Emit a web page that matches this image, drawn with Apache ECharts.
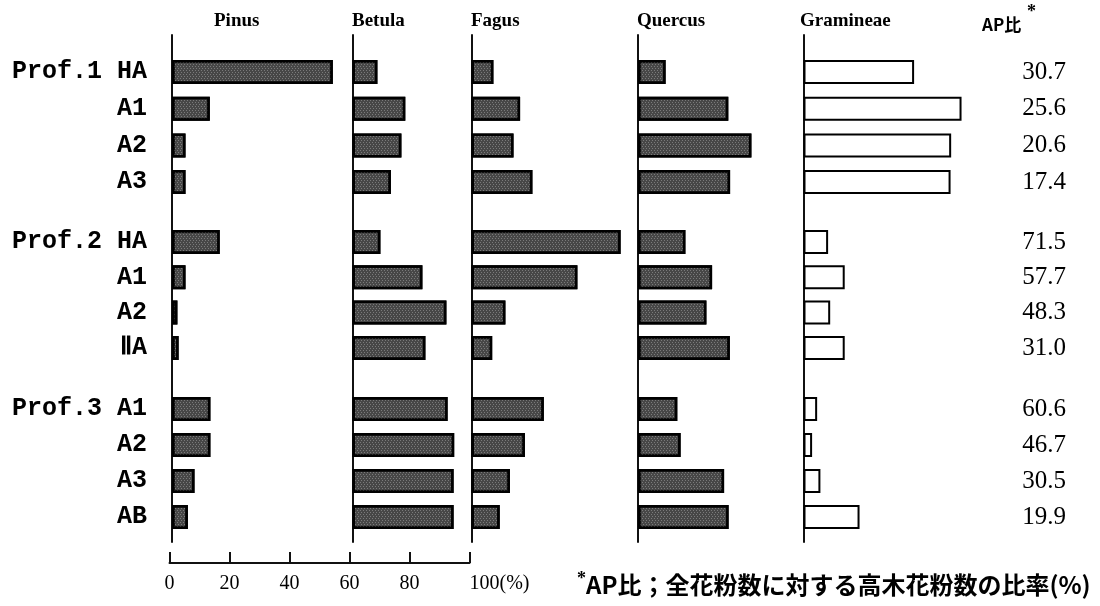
<!DOCTYPE html>
<html>
<head>
<meta charset="utf-8">
<script src="https://cdn.jsdelivr.net/npm/echarts@6/dist/echarts.min.js"></script>
<style>
  html, body { margin: 0; padding: 0; background: #fff; }
  #chart { width: 1100px; height: 606px; }
</style>
</head>
<body>
<div id="chart"></div>
<script>
// Sample (horizon) labels of each soil profile
const prof1Rows = ['Prof.1 HA', 'A1', 'A2', 'A3'];
const prof2Rows = ['Prof.2 HA', 'A1', 'A2', 'ⅡA'];
const prof3Rows = ['Prof.3 A1', 'A2', 'A3', 'AB'];

// Taxon names (panel headings)
const taxa = ['Pinus', 'Betula', 'Fagus', 'Quercus', 'Gramineae'];

// Pollen percentages per taxon, rows ordered Prof.1, Prof.2, Prof.3
const pinus     = [53.6, 12.6, 4.5, 4.5,   15.9, 4.5, 1.8, 2.2,    12.8, 12.8, 7.5, 5.3];
const betula    = [8.3, 17.6, 16.3, 12.8,  9.3, 23.3, 31.3, 24.3,  31.7, 33.9, 33.7, 33.7];
const fagus     = [7.3, 16.2, 14.0, 20.3,  49.7, 35.3, 11.3, 6.9,  24.1, 17.8, 12.8, 9.4];
const quercus   = [9.2, 30.1, 37.8, 30.7,  15.8, 24.7, 22.8, 30.6, 13.1, 14.2, 28.7, 30.2];
const gramineae = [37.3, 53.3, 49.8, 49.6, 8.3, 13.9, 9.0, 13.9,   4.6, 2.9, 5.7, 18.9];

// AP ratio: arboreal pollen as a share of total pollen (%)
const apRatio = [30.7, 25.6, 20.6, 17.4, 71.5, 57.7, 48.3, 31.0, 60.6, 46.7, 30.5, 19.9];

// Percentage scale ticks
const scaleTicks = [0, 20, 40, 60, 80, 100];

// ---- layout ----
const profiles = [prof1Rows, prof2Rows, prof3Rows];
const taxonValues = [pinus, betula, fagus, quercus, gramineae];
const panelLeft = [172, 352.5, 471.5, 638, 803.5];   // baseline of each taxon panel
const panelWidth = 300;                               // 100 % -> 300 px, shared scale
const profileBand = [
  { top: 53.7, height: 146.7 },
  { top: 224.3, height: 141.3 },
  { top: 391, height: 144 }
];
const frameTop = 35, frameBottom = 542;
const INK = '#111';

const grid = [], xAxis = [], yAxis = [], series = [];

// Continuous baseline for every taxon panel
taxa.forEach((name, t) => {
  const gi = grid.length;
  grid.push({ left: panelLeft[t], top: frameTop, width: panelWidth, height: frameBottom - frameTop });
  xAxis.push({ gridIndex: gi, type: 'value', min: 0, max: 100, show: false });
  yAxis.push({
    gridIndex: gi, type: 'value', min: 0, max: 1,
    axisLine: { show: true, onZero: false, lineStyle: { color: INK, width: 2 } },
    axisTick: { show: false }, axisLabel: { show: false }, splitLine: { show: false }
  });
});

const treeStyle = {
  color: '#474747',
  borderColor: '#000',
  borderWidth: 2.5,
  decal: {
    symbol: 'rect',
    symbolSize: 1,
    color: 'rgba(255,255,255,0.28)',
    dashArrayX: [[1, 2], [0, 1, 1, 1]],
    dashArrayY: [1, 1],
    rotation: 0
  }
};
const herbStyle = { color: '#fff', borderColor: '#000', borderWidth: 2 };

// One small grid per profile and taxon, all on the same % scale
profiles.forEach((rows, p) => {
  taxa.forEach((name, t) => {
    const gi = grid.length;
    grid.push({ left: panelLeft[t], top: profileBand[p].top, width: panelWidth, height: profileBand[p].height });
    const xi = xAxis.length;
    xAxis.push({ gridIndex: gi, type: 'value', min: 0, max: 100, show: false });
    const yi = yAxis.length;
    yAxis.push({
      gridIndex: gi, type: 'category', data: rows, inverse: true,
      axisLine: { show: false }, axisTick: { show: false }, splitLine: { show: false },
      axisLabel: t === 0 ? {
        show: true, margin: 25, color: '#000',
        fontFamily: 'Liberation Mono', fontWeight: 'bold', fontSize: 25
      } : { show: false }
    });
    if (t === taxa.length - 1) {
      // AP ratio column at the right of the Gramineae panel
      yAxis.push({
        gridIndex: gi, type: 'category', data: rows, inverse: true, position: 'right',
        axisLine: { show: false }, axisTick: { show: false }, splitLine: { show: false },
        axisLabel: {
          show: true, inside: true, margin: 34, color: '#000',
          fontFamily: 'Liberation Serif', fontSize: 25,
          formatter: (v, i) => apRatio[p * 4 + i].toFixed(1)
        }
      });
    }
    series.push({
      type: 'bar', name: name, xAxisIndex: xi, yAxisIndex: yi,
      data: taxonValues[t].slice(p * 4, p * 4 + 4),
      barWidth: 24, silent: true,
      itemStyle: t === taxa.length - 1 ? herbStyle : treeStyle
    });
  });
});

// Percentage scale under the Pinus/Betula panels
{
  const gi = grid.length;
  grid.push({ left: 169.5, top: 540, width: panelWidth, height: 23 });
  xAxis.push({
    gridIndex: gi, type: 'value', position: 'bottom',
    min: scaleTicks[0], max: scaleTicks[scaleTicks.length - 1], interval: scaleTicks[1] - scaleTicks[0],
    axisLine: { show: true, onZero: false, lineStyle: { color: INK, width: 2 } },
    axisTick: { show: true, inside: true, length: 11, lineStyle: { color: INK, width: 2 } },
    splitLine: { show: false },
    axisLabel: {
      show: true, margin: 11, color: '#000', fontFamily: 'Liberation Serif', fontSize: 20,
      alignMaxLabel: 'left',
      formatter: v => (v === scaleTicks[scaleTicks.length - 1] ? v + '(%)' : String(v))
    }
  });
  yAxis.push({ gridIndex: gi, type: 'value', min: 0, max: 1, show: false });
}

// Headings and footnote
const titleX = [214, 352, 471, 637, 800];
const graphic = taxa.map((name, t) => ({
  type: 'text', left: titleX[t], top: 12, silent: true,
  style: { text: name, fill: '#000', font: 'bold 19px "Liberation Serif"' }
}));
graphic.push(
  { type: 'text', left: 982, top: 16, silent: true,
    style: { text: 'AP比', fill: '#000', font: 'bold 17px "Noto Sans CJK JP"' } },
  { type: 'text', left: 1027, top: 3, silent: true,
    style: { text: '*', fill: '#000', font: 'bold 18px "Liberation Serif"' } },
  { type: 'text', left: 577, top: 570, silent: true,
    style: { text: '*', fill: '#000', font: 'bold 18px "Liberation Serif"' } },
  { type: 'text', left: 586, top: 573, silent: true,
    style: { text: 'AP比；全花粉数に対する高木花粉数の比率(%)', fill: '#000', font: 'bold 24px "Noto Sans CJK JP"' } }
);

const chart = echarts.init(document.getElementById('chart'), null, { renderer: 'canvas' });
chart.setOption({
  animation: false,
  backgroundColor: '#fff',
  grid, xAxis, yAxis, series, graphic
});
</script>
</body>
</html>
